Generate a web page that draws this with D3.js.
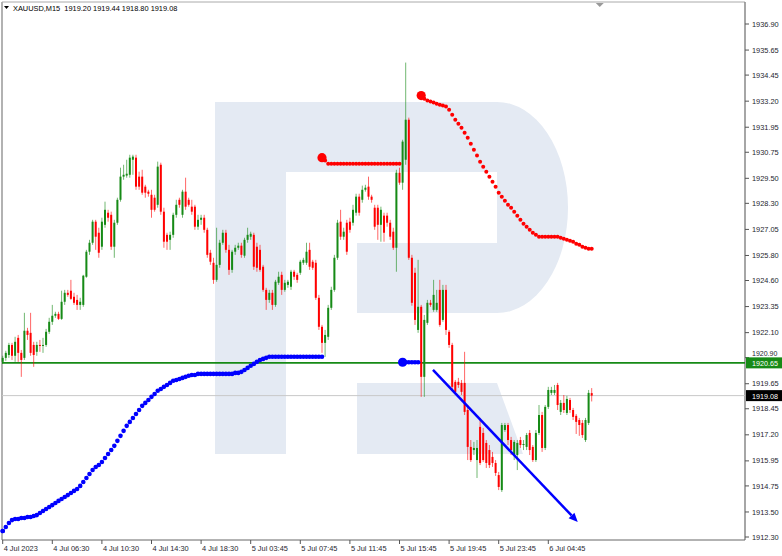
<!DOCTYPE html>
<html><head><meta charset="utf-8">
<script src="https://cdn.jsdelivr.net/npm/d3@7"></script>
<style>body{margin:0;background:#fff;}svg{display:block;}text{font-family:"Liberation Sans",Arial,sans-serif;}</style>
</head><body><svg id="c" width="782" height="556"></svg>
<script>
const symbol = "XAUUSD,M15";
const lastOHLC = [1919.20, 1919.44, 1918.80, 1919.08];

const open = [1920.70,1920.89,1921.03,1921.51,1920.99,1921.85,1921.13,1920.89,1922.19,1922.09,
1921.51,1921.18,1921.51,1921.47,1921.51,1922.14,1922.62,1922.91,1923.00,1922.76,
1923.58,1924.01,1924.11,1923.82,1923.67,1923.43,1923.43,1924.78,1925.98,1926.41,
1927.42,1926.89,1926.22,1927.27,1927.85,1927.75,1926.22,1927.37,1928.47,1929.58,
1929.63,1929.67,1930.39,1930.49,1929.58,1929.58,1929.10,1928.86,1928.71,1928.57,
1928.23,1930.15,1927.90,1926.79,1926.55,1926.79,1927.75,1928.47,1927.75,1928.86,
1928.47,1928.14,1928.14,1927.18,1927.51,1927.61,1927.03,1925.93,1925.45,1924.63,
1925.35,1926.41,1926.89,1926.07,1925.11,1925.98,1926.17,1926.27,1925.79,1926.55,
1926.70,1926.79,1926.22,1926.07,1925.26,1924.15,1923.67,1924.01,1923.43,1924.49,
1924.87,1924.15,1924.39,1924.30,1925.02,1924.87,1924.97,1925.45,1925.45,1926.07,
1925.50,1925.45,1923.77,1922.38,1921.61,1921.90,1923.29,1924.15,1925.69,1927.42,
1926.70,1927.37,1927.42,1927.37,1927.85,1928.62,1928.47,1928.95,1929.10,1928.62,
1928.09,1928.09,1927.27,1927.71,1927.71,1927.37,1926.94,1926.17,1929.77,1929.29,
1930.39,1932.31,1925.69,1924.97,1922.23,1923.34,1919.98,1922.57,1923.53,1923.19,
1923.19,1924.15,1922.71,1924.15,1922.14,1921.51,1919.74,1919.74,1919.69,1919.69,
1918.39,1916.62,1916.47,1915.99,1917.58,1917.29,1916.81,1916.47,1916.14,1915.85,
1915.27,1914.55,1917.43,1917.67,1916.95,1916.23,1916.23,1916.95,1916.71,1916.62,
1917.29,1916.62,1915.99,1917.29,1918.15,1916.57,1918.54,1919.21,1919.21,1919.59,
1918.30,1918.73,1918.25,1918.87,1918.39,1918.11,1917.91,1917.77,1916.95,1917.77,
1919.20];
const high = [1920.99,1921.23,1921.61,1921.61,1921.90,1921.99,1921.27,1923.05,1922.33,1923.05,
1921.66,1921.66,1921.75,1921.85,1922.28,1922.81,1923.43,1923.10,1923.10,1924.11,
1924.15,1924.15,1924.63,1924.01,1923.91,1923.77,1924.87,1926.07,1926.55,1927.51,
1927.51,1927.13,1927.61,1928.38,1927.99,1927.90,1927.51,1928.57,1930.01,1930.15,
1930.39,1930.63,1930.63,1930.63,1929.82,1929.91,1929.19,1928.95,1928.95,1928.71,
1930.30,1930.25,1928.09,1926.89,1926.94,1927.85,1928.47,1928.57,1928.95,1929.53,
1928.57,1928.47,1928.23,1927.75,1927.75,1927.75,1927.13,1926.07,1925.69,1927.13,
1926.55,1927.03,1927.03,1926.31,1926.07,1926.31,1926.41,1926.41,1926.65,1927.13,
1926.94,1926.89,1926.41,1926.31,1925.35,1924.25,1924.15,1924.15,1924.63,1925.02,
1925.02,1924.63,1924.63,1925.11,1925.11,1924.97,1925.59,1925.69,1926.41,1926.41,
1925.59,1925.59,1923.91,1922.47,1922.23,1923.43,1924.30,1925.83,1927.51,1927.99,
1927.13,1927.51,1927.61,1928.23,1928.76,1928.76,1929.15,1929.19,1929.58,1928.71,
1928.23,1928.23,1928.14,1927.85,1927.85,1927.51,1927.13,1929.91,1930.01,1931.35,
1935.05,1932.41,1925.83,1925.21,1925.59,1923.43,1922.95,1923.67,1923.67,1924.63,
1924.15,1924.63,1924.39,1924.39,1922.23,1921.61,1919.83,1919.93,1919.83,1921.18,
1918.63,1916.95,1916.86,1916.95,1918.01,1917.53,1916.95,1916.71,1916.38,1915.99,
1915.42,1917.77,1917.77,1917.77,1917.10,1916.95,1916.95,1917.10,1916.95,1917.29,
1917.43,1916.71,1917.43,1918.63,1918.30,1918.63,1919.50,1919.50,1919.59,1919.69,
1918.87,1919.11,1919.07,1918.97,1918.49,1918.20,1918.01,1917.91,1918.01,1919.35,
1919.44];
const low = [1920.60,1920.75,1920.89,1920.79,1920.70,1920.70,1919.98,1920.79,1921.75,1920.99,
1920.46,1920.99,1921.18,1921.13,1921.42,1922.04,1922.47,1922.81,1922.71,1922.71,
1923.43,1923.82,1923.67,1923.43,1923.19,1923.19,1923.34,1924.73,1925.83,1926.31,
1926.07,1925.69,1926.07,1927.13,1927.42,1926.07,1925.69,1927.27,1928.38,1929.43,
1929.53,1929.53,1929.67,1928.95,1928.95,1928.71,1928.57,1928.62,1927.61,1927.90,
1928.09,1927.75,1926.17,1926.07,1926.07,1926.65,1927.61,1928.09,1927.61,1927.99,
1928.14,1927.75,1927.03,1927.03,1927.27,1926.89,1925.69,1925.35,1924.44,1924.54,
1925.21,1926.31,1925.93,1924.87,1924.97,1925.83,1926.07,1925.69,1925.69,1926.41,
1926.55,1925.11,1925.02,1925.02,1924.06,1923.19,1923.53,1923.19,1923.34,1924.39,
1923.91,1924.06,1924.25,1924.15,1924.63,1924.49,1924.87,1925.35,1925.35,1925.11,
1925.11,1923.67,1922.23,1921.13,1920.94,1921.75,1923.19,1924.06,1925.59,1926.55,
1926.55,1925.83,1926.89,1927.23,1927.71,1927.71,1928.33,1928.86,1928.47,1928.33,
1927.03,1926.55,1926.46,1926.46,1927.18,1926.55,1926.07,1925.02,1929.19,1928.95,
1930.15,1925.59,1923.39,1922.47,1922.09,1919.02,1919.02,1922.47,1923.34,1923.10,
1923.10,1922.38,1922.62,1921.99,1921.37,1919.35,1919.11,1919.45,1919.11,1918.15,
1915.99,1915.90,1916.23,1915.13,1915.75,1915.90,1915.61,1915.61,1915.66,1915.23,
1914.55,1914.46,1917.34,1916.71,1916.23,1915.99,1915.51,1916.57,1916.47,1916.47,
1916.23,1915.90,1915.90,1917.19,1916.38,1916.47,1918.44,1919.11,1919.11,1918.39,
1918.15,1918.25,1918.15,1918.25,1917.91,1917.24,1917.15,1917.05,1916.86,1917.67,
1918.80];
const close = [1920.89,1921.13,1921.51,1920.99,1921.66,1921.13,1920.79,1922.19,1921.99,1921.13,
1921.03,1921.51,1921.47,1921.51,1922.14,1922.62,1922.91,1923.00,1922.76,1923.58,
1924.01,1923.91,1923.72,1923.53,1923.43,1923.58,1924.83,1925.98,1926.41,1927.42,
1926.70,1925.93,1927.42,1927.99,1927.61,1926.22,1927.37,1928.47,1929.58,1929.67,
1929.72,1930.49,1930.54,1929.10,1929.10,1928.81,1928.81,1928.76,1927.99,1927.99,
1930.06,1927.90,1926.46,1926.46,1926.79,1927.75,1928.23,1928.23,1928.86,1928.14,
1928.23,1927.90,1927.18,1927.51,1927.61,1927.03,1925.83,1925.50,1924.63,1925.35,
1926.41,1926.89,1926.07,1925.11,1925.98,1926.17,1926.27,1925.83,1926.55,1926.79,
1926.84,1925.26,1925.21,1925.11,1924.15,1923.67,1924.01,1923.43,1924.54,1924.78,
1924.15,1924.49,1924.54,1925.02,1924.78,1924.63,1925.50,1925.59,1925.98,1925.26,
1925.21,1923.77,1922.38,1921.61,1921.99,1923.29,1924.15,1925.69,1927.37,1926.70,
1926.94,1925.98,1927.03,1927.99,1928.62,1927.85,1928.95,1929.05,1928.62,1928.47,
1927.18,1927.27,1927.99,1926.89,1927.37,1926.70,1926.17,1929.77,1929.29,1931.26,
1932.31,1925.69,1923.53,1922.71,1923.34,1919.98,1922.71,1923.53,1923.43,1923.91,
1923.53,1922.47,1924.15,1922.23,1921.51,1919.50,1919.26,1919.59,1919.26,1918.30,
1916.62,1915.99,1916.57,1916.57,1915.85,1915.99,1915.85,1915.75,1915.85,1915.37,
1914.70,1917.67,1917.67,1916.95,1916.47,1916.86,1916.81,1916.71,1916.76,1917.19,
1916.47,1915.99,1917.29,1918.15,1916.57,1918.54,1919.35,1919.35,1919.35,1918.63,
1918.73,1918.39,1918.92,1918.39,1918.06,1917.82,1917.67,1917.19,1917.91,1919.21,
1919.08];

const timeLabels = ["4 Jul 2023","4 Jul 06:30","4 Jul 10:30","4 Jul 14:30","4 Jul 18:30","5 Jul 03:45",
"5 Jul 07:45","5 Jul 11:45","5 Jul 15:45","5 Jul 19:45","5 Jul 23:45","6 Jul 04:45"];
const timeLabelStep = 16;
const priceTicks = ["1936.90","1935.65","1934.45","1933.20","1931.95","1930.75","1929.50","1928.30",
"1927.05","1925.80","1924.60","1923.35","1922.10","1920.90","1919.65","1918.45","1917.20","1915.95",
"1914.75","1913.50","1912.30"];
const levelLine = 1920.65;
const bidLine = 1919.08;

// trend indicator segments (blue = support, red = resistance)
const supportAStart = 0;
const supportA = [1912.59,1912.78,1912.97,1913.11,1913.16,1913.16,1913.21,1913.21,1913.26,1913.26,
1913.31,1913.35,1913.45,1913.55,1913.64,1913.74,1913.83,1913.93,1914.03,1914.12,
1914.22,1914.31,1914.41,1914.51,1914.60,1914.75,1914.94,1915.13,1915.32,1915.51,
1915.66,1915.75,1915.90,1916.09,1916.28,1916.47,1916.67,1916.91,1917.15,1917.39,
1917.63,1917.82,1918.01,1918.20,1918.39,1918.59,1918.73,1918.87,1919.02,1919.16,
1919.31,1919.40,1919.50,1919.59,1919.69,1919.79,1919.83,1919.88,1919.93,1919.98,
1920.03,1920.07,1920.07,1920.12,1920.12,1920.12,1920.12,1920.12,1920.12,1920.12,
1920.12,1920.12,1920.12,1920.12,1920.12,1920.17,1920.17,1920.22,1920.31,1920.41,
1920.51,1920.60,1920.70,1920.79,1920.84,1920.89,1920.94,1920.94,1920.94,1920.94,
1920.94,1920.94,1920.94,1920.94,1920.94,1920.94,1920.94,1920.94,1920.94,1920.94,
1920.94,1920.94,1920.94,1920.94];
const resistAStart = 103;
const resistA = [1930.49,1930.35,1930.20,1930.20,1930.20,1930.20,1930.20,1930.20,1930.20,1930.20,
1930.20,1930.20,1930.20,1930.20,1930.20,1930.20,1930.20,1930.20,1930.20,1930.20,
1930.20,1930.20,1930.20,1930.20,1930.20,1930.20];
const supportBStart = 129;
const supportB = [1920.68,1920.68,1920.68,1920.68,1920.68,1920.68];
const resistBStart = 135;
const resistB = [1933.47,1933.32,1933.23,1933.18,1933.13,1933.08,1933.03,1932.99,1932.94,1932.79,
1932.55,1932.31,1932.12,1931.93,1931.69,1931.45,1931.16,1930.87,1930.59,1930.30,
1930.06,1929.82,1929.58,1929.34,1929.10,1928.81,1928.62,1928.43,1928.23,1928.09,
1927.90,1927.71,1927.51,1927.32,1927.18,1927.03,1926.89,1926.79,1926.70,1926.70,
1926.70,1926.70,1926.70,1926.70,1926.70,1926.65,1926.60,1926.55,1926.51,1926.46,
1926.36,1926.31,1926.22,1926.17,1926.12,1926.12];

// trend arrow annotation: [bar index, price]
const arrowFrom = [138.8, 1920.31];
const arrowTo = [185.5, 1913.02];

// ---------- drawing ----------
const plotL = 2, plotR = 745, plotT = 2, plotB = 540;
const svg = d3.select("#c");
const N = close.length;
const x = d3.scaleLinear().domain([0, N - 1]).range([2.7, 2.7 + (N - 1) * 3.1]);
const y = d3.scaleLinear().domain([1912.30, 1936.90]).range([537, 24]);

const GREEN = "#168a16", RED = "#ff0000", BLUE = "#0000ff";

// watermark logo (decoration)
const lg = svg.append("g").attr("fill", "#e4eaf3");
const L = 215, T = 102;
lg.append("rect").attr("x", L).attr("y", T).attr("width", 71).attr("height", 352);
lg.append("rect").attr("x", L + 71).attr("y", T).attr("width", 211).attr("height", 70);
lg.append("path").attr("d", `M${L+282},${T} A71,105.5 0 0 1 ${L+282},${T+211} Z`);
lg.append("rect").attr("x", L + 142).attr("y", T + 141).attr("width", 140).attr("height", 70);
lg.append("path").attr("d", `M${L+142},${T+281} H${L+282} L${L+308},${T+352} H${L+142} Z`);

// frame
svg.append("line").attr("x1", plotL).attr("x2", plotL).attr("y1", plotT).attr("y2", plotB).attr("stroke", "#999").attr("stroke-width", 1.5);
svg.append("line").attr("x1", plotL).attr("x2", plotR).attr("y1", plotT).attr("y2", plotT).attr("stroke", "#aaa").attr("stroke-width", 1);
svg.append("line").attr("x1", plotR).attr("x2", plotR).attr("y1", plotT).attr("y2", plotB).attr("stroke", "#888").attr("stroke-width", 1.5);
svg.append("line").attr("x1", plotL).attr("x2", plotR).attr("y1", plotB).attr("y2", plotB).attr("stroke", "#666").attr("stroke-width", 1);

// shift marker
const sx = x(192.6);
svg.append("path").attr("d", `M${sx-4},${plotT+1} L${sx+4},${plotT+1} L${sx},${plotT+5} Z`).attr("fill", "#999");

// bid line & level line
svg.append("line").attr("x1", plotL).attr("x2", plotR).attr("y1", y(bidLine)).attr("y2", y(bidLine)).attr("stroke", "#c8c8c8").attr("stroke-width", 1);
svg.append("line").attr("x1", plotL).attr("x2", plotR).attr("y1", y(levelLine)).attr("y2", y(levelLine)).attr("stroke", GREEN).attr("stroke-width", 1.6);

// candles
const bars = d3.range(N).map(i => ({i, o: open[i], h: high[i], l: low[i], c: close[i]}));
const cg = svg.append("g");
cg.selectAll("line.w").data(bars).join("line")
  .attr("x1", d => x(d.i)).attr("x2", d => x(d.i))
  .attr("y1", d => y(d.h)).attr("y2", d => y(d.l))
  .attr("stroke", d => d.c >= d.o ? GREEN : RED).attr("stroke-width", 1).attr("opacity", 0.6);
cg.selectAll("rect.b").data(bars).join("rect")
  .attr("x", d => x(d.i) - 1).attr("width", 2)
  .attr("y", d => y(Math.max(d.o, d.c)))
  .attr("height", d => Math.max(1, Math.abs(y(d.o) - y(d.c))))
  .attr("fill", d => d.c >= d.o ? GREEN : RED);

// indicator dots
function dots(vals, start, color, r, big) {
  const g = svg.append("g").attr("fill", color);
  const pts = vals.map((v, k) => ({i: start + k, v}));
  g.selectAll("circle").data(pts).join("circle")
    .attr("cx", d => x(d.i)).attr("cy", d => y(d.v)).attr("r", r);
  g.append("circle").attr("cx", x(start)).attr("cy", y(vals[0])).attr("r", big);
}
dots(supportA, supportAStart, BLUE, 2.3, 2.3);
dots(resistA, resistAStart, RED, 2.0, 4.6);
dots(supportB, supportBStart, BLUE, 2.3, 4.6);
dots(resistB, resistBStart, RED, 2.0, 4.6);

// arrow
const ax1 = x(arrowFrom[0]), ay1 = y(arrowFrom[1]), ax2 = x(arrowTo[0]), ay2 = y(arrowTo[1]);
const ang = Math.atan2(ay2 - ay1, ax2 - ax1);
const hl = 9, hw = 4;
const bx = ax2 - hl * Math.cos(ang), by = ay2 - hl * Math.sin(ang);
svg.append("line").attr("x1", ax1).attr("y1", ay1).attr("x2", bx).attr("y2", by)
  .attr("stroke", BLUE).attr("stroke-width", 2.5);
svg.append("path").attr("fill", BLUE).attr("d",
  `M${ax2},${ay2} L${bx - hw*Math.sin(ang)},${by + hw*Math.cos(ang)} L${bx + hw*Math.sin(ang)},${by - hw*Math.cos(ang)} Z`);

// price axis
const pa = svg.append("g");
priceTicks.forEach(t => {
  const v = +t, yy = y(v);
  // the label just above the level box is nudged up so it peeks out above the box
  const near = Math.abs(v - levelLine) < 0.5;
  const dy = near ? -1.2 : 2.6;
  pa.append("line").attr("x1", plotR).attr("x2", plotR + 4).attr("y1", yy).attr("y2", yy).attr("stroke", "#555");
  pa.append("text").attr("x", 752).attr("y", yy + dy).attr("font-size", near ? 7.0 : 7.4).attr("fill", "#1e1e2e").text(t);
});
// level & bid labels
function priceBox(v, bg) {
  const yy = y(v);
  pa.append("rect").attr("x", plotR + 1).attr("y", yy - 5.5).attr("width", 36).attr("height", 11).attr("fill", bg);
  pa.append("text").attr("x", 752).attr("y", yy + 3.0).attr("font-size", 7.2).attr("fill", "#fff").text(v.toFixed(2));
}
priceBox(levelLine, GREEN);
priceBox(bidLine, "#000");

// time axis
const ta = svg.append("g");
timeLabels.forEach((t, k) => {
  const xx = x(k * timeLabelStep);
  ta.append("line").attr("x1", xx).attr("x2", xx).attr("y1", plotB).attr("y2", plotB + 4).attr("stroke", "#555");
  ta.append("text").attr("x", xx + 1).attr("y", plotB + 11).attr("font-size", 7.4).attr("fill", "#1e1e2e").text(t);
});

// header
svg.append("path").attr("d", "M4,6 L9,6 L6.5,9 Z").attr("fill", "#000");
svg.append("text").attr("x", 13).attr("y", 11).attr("font-size", 7.4).attr("fill", "#000")
  .attr("xml:space", "preserve")
  .text(symbol + "  " + lastOHLC.map(v => v.toFixed(2)).join(" "));
</script></body></html>
